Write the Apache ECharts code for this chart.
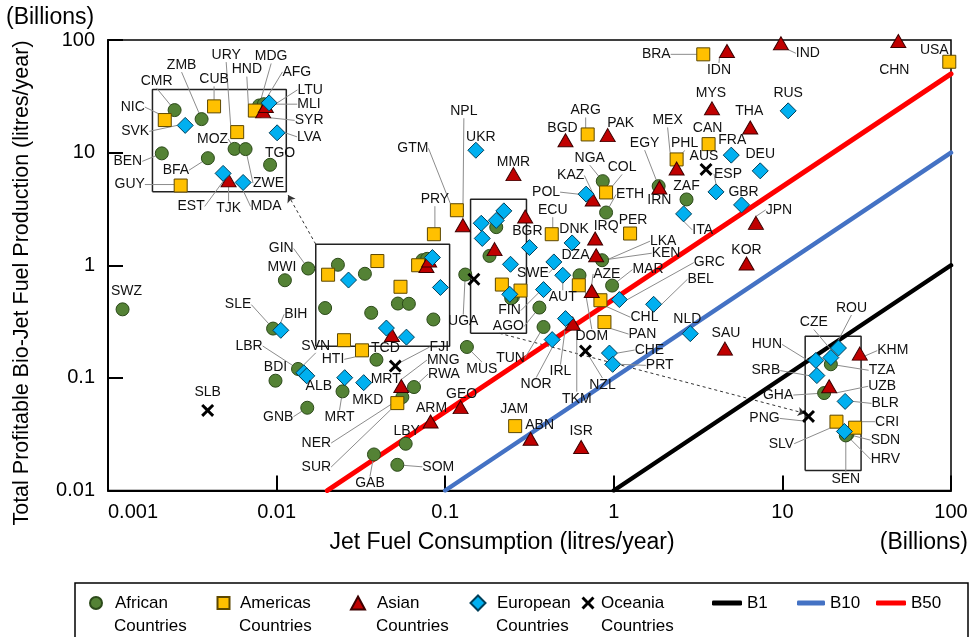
<!DOCTYPE html>
<html><head><meta charset="utf-8">
<script src="https://cdn.jsdelivr.net/npm/echarts@6/dist/echarts.min.js"></script>
<style>html,body{margin:0;padding:0;background:#fff}#c{width:971px;height:637px}</style>
</head><body><div id="c"></div>
<script>
// ---------- tick labels ----------
const xTickLabels = ['0.001','0.01','0.1','1','10','100'];
const yTickLabels = ['0.01','0.1','1','10','100'];

// ---------- data: [code, jet fuel consumption, total profitable bio-jet production] (billion litres/year) ----------
const african = [
 ['SWZ',0.00122,0.406],['GIN',0.0154,0.935],['MWI',0.0112,0.736],['SLE',0.00953,0.274],['LBR',0.0134,0.120],
 ['BDI',0.00985,0.0944],['GNB',0.0152,0.0543],['UGA',0.1315,0.827],['MUS',0.1345,0.188],['TCD',0.0391,0.145],
 ['MRT',0.0246,0.0759],['RWA',0.0653,0.0829],['NER',0.0557,0.0675],['LBY',0.0583,0.0260],['GAB',0.0378,0.0209],
 ['SOM',0.0520,0.0169],['AGO',0.362,0.421],['TUN',0.383,0.283],['DZA',0.626,0.815],['MAR',0.977,0.660],
 ['KEN',0.852,1.108],['EGY',1.845,5.04],['ZAF',2.70,3.84],['NGA',0.860,5.58],['ETH',0.900,2.94],
 ['CMR',0.0231,1.01],['ZMB',0.0334,0.840],['MDG',0.0733,1.11],['MLI',0.0782,1.14],['MOZ',0.0524,0.457],
 ['ZWE',0.0609,0.455],['TGO',0.0851,0.330],['BEN',0.0194,0.417],['BFA',0.0364,0.378],
 ['TZA',0.2008,2.18],['GHA',0.1832,1.21],['SDN',0.2518,0.522],['SEN',0.2463,0.509]
];
const americas = [
 ['BRA',3.394,74.6],['USA',97.7,64.1],['ARG',0.700,14.5],['MEX',2.358,8.70],['CAN',3.649,11.9],
 ['COL',0.900,4.43],['PER',1.249,1.913],['ECU',0.4286,1.886],['DOM',0.620,0.664],['CHL',0.833,0.489],
 ['PAN',0.880,0.313],['PRY',0.0857,1.886],['GTM',0.1173,3.08],['HTI',0.0321,0.1756],['SUR',0.0520,0.0597],
 ['JAM',0.260,0.0373],['NIC',0.0202,0.824],['CUB',0.0396,1.09],['URY',0.0543,0.644],['HND',0.0691,1.00],
 ['GUY',0.0251,0.216],['SLV',0.2168,0.674],['CRI',0.2797,0.596]
];
const asian = [
 ['IND',9.80,93.5],['CHN',48.7,98.0],['IDN',4.69,79.8],['MYS',3.823,24.7],['THA',6.446,16.7],
 ['PAK',0.920,14.3],['BGD',0.517,12.9],['PHL',2.358,7.24],['IRN',1.863,4.91],['JPN',6.966,2.377],
 ['KAZ',0.750,3.84],['IRQ',0.775,1.727],['LKA',0.786,1.227],['AZE',0.740,0.591],['TKM',0.571,0.303],
 ['MMR',0.254,6.44],['NPL',0.1273,2.267],['KOR',6.128,1.035],['SAU',4.563,0.1818],['MNG',0.0549,0.0846],
 ['GEO',0.1234,0.0550],['ARM',0.0819,0.0410],['ABN',0.321,0.0288],['ISR',0.640,0.0243],
 ['SYR',0.0774,0.984],['AFG',0.0803,1.10],['TJK',0.0483,0.240],['UZB',0.1962,1.39],['KHM',0.2981,2.71]
];
const european = [
 ['UKR',0.152,10.5],['RUS',10.82,23.5],['FRA',4.975,9.50],['DEU',7.387,6.89],['ESP',4.037,4.48],
 ['GBR',5.724,3.436],['ITA',2.595,2.858],['POL',0.685,4.28],['BGR',0.316,1.436],['DNK',0.566,1.578],
 ['SWE',0.441,1.07],['AUT',0.498,0.815],['FIN',0.383,0.608],['IRL',0.517,0.336],['NOR',0.431,0.2186],
 ['GRC',1.079,0.4955],['BEL',1.723,0.450],['NLD',2.843,0.247],['CHE',0.942,0.1661],['PRT',0.985,0.1318],
 ['BIH',0.01059,0.2644],['SVN',0.01449,0.1108],['ALB',0.0151,0.1042],['MKD',0.02535,0.1004],['MRT',0.03285,0.0907],
 ['SVK',0.0267,0.739],['LTU',0.0840,1.17],['LVA',0.0937,0.635],['EST',0.0448,0.277],['MDA',0.0589,0.230],
 ['ROU',0.2228,3.04],['CZE',0.2008,2.50],['HUN',0.1636,2.36],['SRB',0.1659,1.73],['BLR',0.2440,1.02],['HRV',0.2416,0.552]
];
const oceania = [
 ['SLB',0.0039,0.0514],['AUS',3.523,7.09],['NZL',0.679,0.173],['FJI',0.0506,0.1273],['PNG',0.148,0.751]
];

// blend-share reference lines (production = share x consumption)
const blendNames = ['B1','B10','B50'];
const blendShares = [0.01, 0.1, 0.5];

// inset (magnified-for-labels) regions: source box in data units, and shift factors to the labelled copy
const insetA = {
  members:['CMR','NIC','SVK','ZMB','CUB','URY','HND','MDG','MLI','SYR','AFG','LTU','LVA','MOZ','ZWE','TGO','BEN','BFA','GUY','EST','TJK','MDA'],
  box:{x:[0.01707,0.1062], y:[0.1905,1.537]}, shift:[0.1075,23.62]
};
const insetB = {
  members:['ROU','CZE','HUN','TZA','SRB','UZB','GHA','BLR','PNG','SLV','CRI','SDN','HRV','SEN','KHM'],
  box:{x:[0.1414,0.3034], y:[0.2487,3.86]}, shift:[96.52,0.06058]
};
// dashed connector arrows (data units)
const connectors = [
  [[0.01707,1.537],[0.0117,4.2]],
  [[0.21,0.2487],[13.6,0.0484]]
];

// ---------- label placement: [dx, dy, leader line?] in px from marker centre ----------
const labelPos = {
 african:{SWZ:[4,-18,0],GIN:[-27,-20,1],MWI:[-3,-13,0],SLE:[-35,-24,1],LBR:[-49,-23,1],BDI:[0,-14,0],GNB:[-29,9,1],
  UGA:[-2,47,1],MUS:[15,22,1],TCD:[9,-12,0],MRT:[-3,26,1],RWA:[30,-13,1],NER:[-86,46,1],LBY:[1,-13,0],GAB:[-4,29,1],
  SOM:[41,2,1],AGO:[-31,19,1],TUN:[-33,31,1],DZA:[-4,-20,0],MAR:[36,-16,1],KEN:[64,-7,1],EGY:[-14,-43,1],ZAF:[0,-13,0],
  NGA:[-13,-23,1],ETH:[24,-18,1],CMR:[-18,-29,1],ZMB:[-20,-54,1],MDG:[12,-49,1],MLI:[45,0,1],MOZ:[-22,-10,1],
  ZWE:[23,34,1],TGO:[10,-12,0],BEN:[-34,8,1],BFA:[-32,12,1],TZA:[51,6,1],GHA:[-46,2,1],SDN:[38,6,1],SEN:[0,44,1]},
 americas:{BRA:[-47,0,1],USA:[-15,-12,0],ARG:[-2,-24,1],MEX:[-9,-39,1],CAN:[-1,-16,0],COL:[16,-25,1],PER:[3,-13,0],
  ECU:[1,-24,1],DOM:[13,51,1],CHL:[44,17,1],PAN:[38,12,1],PRY:[1,-35,1],GTM:[-44,-62,1],HTI:[-29,9,1],SUR:[-81,64,1],
  JAM:[-1,-17,0],NIC:[-32,-13,1],CUB:[0,-27,1],URY:[-11,-77,1],HND:[-8,-41,1],GUY:[-51,-1,1],SLV:[-55,22,1],CRI:[32,-6,1]},
 asian:{IND:[27,10,1],CHN:[-4,29,0],IDN:[-8,19,1],MYS:[-1,-15,0],THA:[-1,-16,0],PAK:[13,-12,0],BGD:[-3,-12,0],
  PHL:[8,-25,1],IRN:[0,13,0],JPN:[23,-13,1],KAZ:[-22,-24,1],IRQ:[11,-12,0],LKA:[67,-14,1],AZE:[15,-17,1],TKM:[4,75,1],
  MMR:[0,-12,0],NPL:[1,-114,1],KOR:[0,-13,0],SAU:[1,-15,0],MNG:[42,-26,1],GEO:[1,-13,0],ARM:[1,-13,0],ABN:[9,-14,0],
  ISR:[0,-16,0],SYR:[46,9,1],AFG:[31,-34,1],TJK:[0,28,1],UZB:[53,0,1],KHM:[33,-3,1]},
 european:{UKR:[5,-13,0],RUS:[0,-18,0],FRA:[1,-15,0],DEU:[0,-17,0],ESP:[12,-18,1],GBR:[2,-13,0],ITA:[19,16,1],
  POL:[-40,-2,1],BGR:[-2,-16,0],DNK:[2,-14,0],SWE:[-21,11,1],AUT:[0,22,1],FIN:[-34,21,1],IRL:[-5,53,1],NOR:[-16,45,1],
  GRC:[90,-37,1],BEL:[47,-25,1],NLD:[-3,-15,0],CHE:[40,-3,1],PRT:[47,1,1],BIH:[15,-16,1],SVN:[12,-27,1],ALB:[12,10,0],
  MKD:[23,22,0],MRT:[22,-4,0],SVK:[-50,6,1],LTU:[41,-13,1],LVA:[32,4,1],EST:[-32,33,1],MDA:[23,24,1],ROU:[13,-40,1],
  CZE:[-17,-35,1],HUN:[-49,-16,1],SRB:[-51,-5,1],BLR:[40,2,1],HRV:[41,28,1]},
 oceania:{SLB:[0,-18,0],AUS:[-2,-13,0],NZL:[17,34,1],FJI:[44,-19,1],PNG:[-44,2,1]}
};

// ---------- styles ----------
const FONT = '"Liberation Sans", Arial, sans-serif';
const X_PATH = 'path://M0,1.6L1.6,0L5,3.4L8.4,0L10,1.6L6.6,5L10,8.4L8.4,10L5,6.6L1.6,10L0,8.4L3.4,5Z';
const groups = [
  {key:'african', name:'African Countries', list:african, symbol:'circle', size:13, color:'#548235', border:'#2c4a1a'},
  {key:'americas', name:'Americas Countries', list:americas, symbol:'rect', size:13, color:'#FFC000', border:'#5c4700'},
  {key:'asian', name:'Asian Countries', list:asian, symbol:'triangle', size:[15,13], color:'#C00000', border:'#3d0000'},
  {key:'european', name:'European Countries', list:european, symbol:'diamond', size:[16,16], color:'#00B0F0', border:'#00405a'},
  {key:'oceania', name:'Oceania Countries', list:oceania, symbol:X_PATH, size:13, color:'#000', border:'#000'}
];
const blendColors = ['#000000','#4472C4','#FF0000'];
const blendWidths = [4.5,4.5,5];

function rectPts(b){ return [[b.x[0],b.y[0]],[b.x[1],b.y[0]],[b.x[1],b.y[1]],[b.x[0],b.y[1]],[b.x[0],b.y[0]]]; }
function shiftBox(b,s){ return {x:[b.x[0]*s[0],b.x[1]*s[0]], y:[b.y[0]*s[1],b.y[1]*s[1]]}; }

function scatterSeries(g){
  const offs = labelPos[g.key];
  const data = [], labs = [];
  g.list.forEach(([code,x,y]) => {
    const off = offs[code] || [0,-14,0];
    const ins = insetA.members.includes(code) ? insetA : (insetB.members.includes(code) ? insetB : null);
    if (ins) {
      data.push({name:code, value:[x,y], label:{show:false}, labelLine:{show:false}}); labs.push(null);
      data.push({name:code, value:[x*ins.shift[0], y*ins.shift[1]], label:{show:true}, labelLine:{show:!!off[2]}}); labs.push(off);
    } else {
      data.push({name:code, value:[x,y], label:{show:true}, labelLine:{show:!!off[2]}}); labs.push(off);
    }
  });
  return {
    type:'scatter', name:g.name, data, symbol:g.symbol, symbolSize:g.size, z:5,
    itemStyle:{color:g.color, borderColor:g.border, borderWidth: g.key==='oceania'?0:1, opacity:1},
    label:{show:true, position:'top', formatter:'{b}', fontSize:14, color:'#111', fontFamily:FONT},
    labelLine:{show:true, lineStyle:{color:'#8c8c8c', width:1}},
    labelLayout:function(p){
      const o = labs[p.dataIndex]; if(!o) return {};
      return {x:p.rect.x+p.rect.width/2+o[0], y:p.rect.y+p.rect.height/2+o[1], align:'center', verticalAlign:'middle'};
    },
    emphasis:{disabled:true}
  };
}

const series = [];
// inset boxes
[insetA, insetB].forEach(ins => {
  [ins.box, shiftBox(ins.box, ins.shift)].forEach(b => {
    series.push({type:'line', data:rectPts(b), symbol:'none', showSymbol:false, silent:true, z:3,
      lineStyle:{color:'#222', width:1.5}, clip:false, emphasis:{disabled:true}});
  });
});
// dashed connector arrows
series.push({type:'lines', coordinateSystem:'cartesian2d', silent:true, z:3,
  data:connectors.map(c => ({coords:c})), symbol:['none','arrow'], symbolSize:7,
  lineStyle:{color:'#333', width:1, type:[3,3], opacity:1}});
// blend lines
const xMax = 100, yMin = 0.01;
blendNames.forEach((n,i) => {
  const r = blendShares[i];
  series.push({type:'line', name:n, data:[[yMin/r, yMin],[xMax, xMax*r]], symbol:'none', showSymbol:false, z:4,
    lineStyle:{color:blendColors[i], width:blendWidths[i], cap:'round'}, itemStyle:{color:blendColors[i]}, emphasis:{disabled:true}});
});
groups.forEach(g => series.push(scatterSeries(g)));

// ---------- legend (one component per item, laid out like the original) ----------
const legendItems = [
  {name:'African Countries', left:89, w:12, h:12, icon:'circle', pad:8},
  {name:'Americas Countries', left:216.5, w:12, h:12, icon:'rect', pad:5.5},
  {name:'Asian Countries', left:350, w:14, h:13, icon:'triangle', pad:7},
  {name:'European Countries', left:469.5, w:15, h:15, icon:'diamond', pad:6.5},
  {name:'Oceania Countries', left:581.5, w:13, h:13, icon:X_PATH, pad:1.5},
  {name:'B1', left:712, w:30, h:5, icon:'roundRect', pad:0},
  {name:'B10', left:797, w:28, h:5, icon:'roundRect', pad:0},
  {name:'B50', left:876, w:30, h:5, icon:'roundRect', pad:0}
];
const legend = legendItems.map(it => ({
  data:[{name:it.name, icon:it.icon}], left:it.left, top:593, padding:0, itemWidth:it.w, itemHeight:it.h,
  selectedMode:false, formatter:n => n.split(' ')[0],
  textStyle:{fontSize:17, fontFamily:FONT, color:'#000', lineHeight:20, padding:[0,0,0,it.pad]}
}));
const secondLineX = [114, 239, 376, 496, 601];

const txt = (x,y,text,size,align,extra) => Object.assign({type:'text', x, y, silent:true,
  style:{text, fontSize:size, fontFamily:FONT, fill:'#000', align, textAlign:align, verticalAlign:'middle', textVerticalAlign:'middle'}}, extra||{});

const graphic = [
  {type:'rect', shape:{x:75, y:583, width:893, height:80}, style:{fill:'none', stroke:'#000', lineWidth:1.5}, silent:true, z:-10},
  ...secondLineX.map(x => txt(x, 626, 'Countries', 17, 'left')),
  txt(6, 18, '(Billions)', 23, 'left'),
  txt(968, 543, '(Billions)', 23, 'right'),
  txt(502, 543, 'Jet Fuel Consumption (litres/year)', 23, 'center'),
  txt(22, 283, 'Total Profitable Bio-Jet Fuel Production (litres/year)', 21.5, 'center', {rotation:Math.PI/2})
];

const chart = echarts.init(document.getElementById('c'));
chart.setOption({
  animation:false,
  backgroundColor:'#fff',
  textStyle:{fontFamily:FONT},
  grid:{left:108, right:20, top:40, bottom:146.5, show:true, borderColor:'#000', borderWidth:1.5, backgroundColor:'transparent'},
  xAxis:{type:'log', logBase:10, min:0.001, max:100,
    axisLine:{show:true, onZero:false, lineStyle:{color:'#000', width:2}},
    axisTick:{show:true, inside:true, length:15, lineStyle:{color:'#000', width:2}},
    axisLabel:{fontSize:20, color:'#000', fontFamily:FONT, margin:12, alignMinLabel:'left',
      formatter:v => xTickLabels[Math.round(Math.log10(v))+3]},
    splitLine:{show:false}, minorTick:{show:false}},
  yAxis:{type:'log', logBase:10, min:0.01, max:100,
    axisLine:{show:true, onZero:false, lineStyle:{color:'#000', width:2}},
    axisTick:{show:true, inside:true, length:15, lineStyle:{color:'#000', width:2}},
    axisLabel:{fontSize:20, color:'#000', fontFamily:FONT, margin:13,
      formatter:v => yTickLabels[Math.round(Math.log10(v))+2]},
    splitLine:{show:false}, minorTick:{show:false}},
  legend, graphic, series
});
</script></body></html>
